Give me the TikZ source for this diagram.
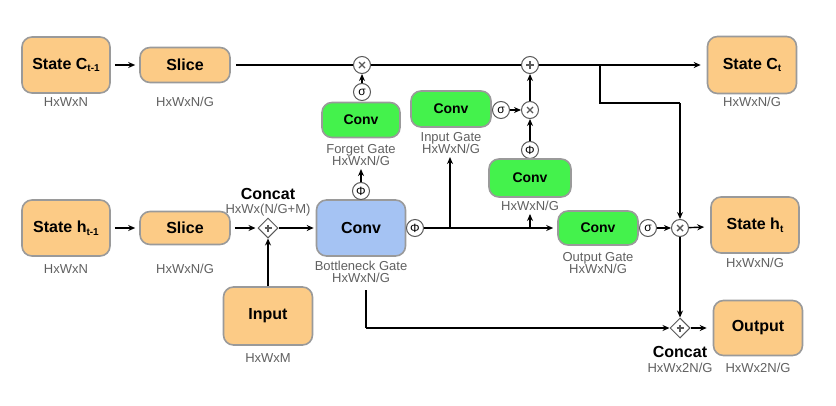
\documentclass[tikz,border=0pt]{standalone}
\usepackage{fontspec}
\setmainfont{Liberation Sans}
\usetikzlibrary{arrows.meta,shapes.geometric}
\definecolor{boxor}{HTML}{FCCB86}
\definecolor{boxgr}{HTML}{44F24C}
\definecolor{boxbl}{HTML}{A5C3F3}
\definecolor{bord}{HTML}{9A9A9A}
\definecolor{lbl}{HTML}{606060}
\newcommand\subs[1]{\raisebox{-2.5pt}{\fontsize{10}{10}\selectfont #1}}
\tikzset{
  box/.style={rounded corners=10pt, draw=bord, line width=1.6pt, align=center, inner sep=0pt},
  obox/.style={box, fill=boxor, font=\bfseries\fontsize{16}{18}\selectfont},
  gbox/.style={box, fill=boxgr, font=\bfseries\fontsize{14}{16}\selectfont},
  bbox/.style={box, fill=boxbl, font=\bfseries\fontsize{16}{18}\selectfont},
  dim/.style={text=lbl, font=\fontsize{13}{12.5}\selectfont, align=center, inner sep=0pt},
  ttl/.style={font=\bfseries\fontsize{16}{18}\selectfont, inner sep=0pt},
  op/.style={circle, draw=black!65, line width=1pt, fill=white, minimum size=17pt, inner sep=0pt, font=\fontsize{12}{12}\selectfont},
  mult/.style={op, path picture={
      \draw[line width=1.4pt] ([shift={(-3pt,-3pt)}]path picture bounding box.center) -- ([shift={(3pt,3pt)}]path picture bounding box.center);
      \draw[line width=1.4pt] ([shift={(-3pt,3pt)}]path picture bounding box.center) -- ([shift={(3pt,-3pt)}]path picture bounding box.center);}},
  plus/.style={op, path picture={
      \draw[line width=1.4pt] ([shift={(-4pt,0pt)}]path picture bounding box.center) -- ([shift={(4pt,0pt)}]path picture bounding box.center);
      \draw[line width=1.4pt] ([shift={(0pt,-4pt)}]path picture bounding box.center) -- ([shift={(0pt,4pt)}]path picture bounding box.center);}},
  cat/.style={diamond, draw=black!65, line width=1pt, fill=white, minimum size=20pt, inner sep=0pt, path picture={
      \draw[line width=1.3pt] ([shift={(-3.5pt,0pt)}]path picture bounding box.center) -- ([shift={(3.5pt,0pt)}]path picture bounding box.center);
      \draw[line width=1.3pt] ([shift={(0pt,-3.5pt)}]path picture bounding box.center) -- ([shift={(0pt,3.5pt)}]path picture bounding box.center);}},
  wire/.style={line width=1.4pt, draw=black},
  arr/.style={wire, -{Stealth[length=7pt,width=6pt]}},
}
\begin{document}
\begin{tikzpicture}[x=1pt,y={(0pt,-1pt)}]
\useasboundingbox (0,0) rectangle (836,405);
% top row
\node[obox, minimum width=88pt, minimum height=56pt] (c0) at (66,65) {State C\subs{t-1}};
\node[dim] (c0l) at (66,102) {HxWxN};
\node[obox, minimum width=90pt, minimum height=35pt] (s1) at (185,65) {Slice};
\node[dim] (s1l) at (185,102) {HxWxN/G};
\node[mult] (fx) at (362,65) {};
\node[op] (fs) at (362,92) {σ};
\node[gbox, minimum width=78pt, minimum height=35pt] (fc) at (361,120) {Conv};
\node[dim] (fcl) at (361,155) {Forget Gate\\HxWxN/G};
\node[plus] (pl) at (530,65) {};
\node[gbox, minimum width=80pt, minimum height=36pt] (ic) at (451,109) {Conv};
\node[dim] (icl) at (451,143) {Input Gate\\HxWxN/G};
\node[op] (is) at (501,110) {σ};
\node[mult] (ix) at (530,110) {};
\node[op] (ph) at (530,150) {Φ};
\node[gbox, minimum width=82pt, minimum height=38pt] (cc) at (530,178) {Conv};
\node[dim] (ccl) at (530,206) {HxWxN/G};
\node[obox, minimum width=89pt, minimum height=57pt] (ct) at (752,65) {State C\subs{t}};
\node[dim] (ctl) at (752,102) {HxWxN/G};
% middle row
\node[obox, minimum width=88pt, minimum height=56pt] (h0) at (66,228) {State h\subs{t-1}};
\node[dim] (h0l) at (66,269) {HxWxN};
\node[obox, minimum width=90pt, minimum height=33pt] (s2) at (185,228) {Slice};
\node[dim] (s2l) at (185,269) {HxWxN/G};
\node[cat] (cat) at (268,228) {};
\node[ttl] (catt) at (268,194) {Concat};
\node[dim] (catl) at (268,210) {HxWx(N/G+M)};
\node[bbox, minimum width=89pt, minimum height=56pt] (bc) at (361,228) {Conv};
\node[dim] (bcl) at (361,272) {Bottleneck Gate\\HxWxN/G};
\node[op] (bt) at (361,191) {Φ};
\node[op] (br) at (415,228) {Φ};
\node[gbox, minimum width=80pt, minimum height=34pt] (oc) at (598,228) {Conv};
\node[dim] (ocl) at (598,263) {Output Gate\\HxWxN/G};
\node[op] (os) at (648,228) {σ};
\node[mult] (ox) at (680,228) {};
\node[obox, minimum width=88pt, minimum height=56pt] (ht) at (755,225) {State h\subs{t}};
\node[dim] (htl) at (755,263) {HxWxN/G};
% bottom row
\node[obox, minimum width=89pt, minimum height=58pt] (in) at (268,316) {Input};
\node[dim] (inl) at (268,358) {HxWxM};
\node[cat] (oc2) at (680,328) {};
\node[ttl] (oc2t) at (680,352) {Concat};
\node[dim] (oc2l) at (680,368) {HxWx2N/G};
\node[obox, minimum width=89pt, minimum height=55pt] (out) at (758,328) {Output};
\node[dim] (outl) at (758,368) {HxWx2N/G};
% coordinates
\coordinate (j1) at (600,65);
\coordinate (j2) at (600,103);
\coordinate (j3) at (680,103);
\coordinate (b1) at (450,228);
\coordinate (b2) at (530,228);
\coordinate (d0) at (366,290);
\coordinate (d1) at (366,328);
% connectors top
\draw[arr, shorten <=4pt, shorten >=4pt] (c0) -- (s1);
\draw[wire, shorten <=5pt] (s1) -- (fx);
\draw[wire] (fx) -- (pl);
\draw[arr, shorten >=6pt] (pl) -- (ct);
\draw[arr] (fs) -- (fx);
\draw[arr] (is) -- (ix);
\draw[arr] (ix) -- (pl);
\draw[arr] (ph) -- (ix);
\draw[wire] (j1) -- (j2) -- (j3);
\draw[arr] (j3) -- (ox);
% connectors middle
\draw[arr, shorten <=4pt, shorten >=4pt] (h0) -- (s2);
\draw[arr, shorten <=4pt, shorten >=2pt] (s2) -- (cat);
\draw[arr, shorten >=2pt] (cat) -- (bc);
\draw[arr] (in) -- (cat);
\draw[arr, shorten >=3pt] (bt) -- (fcl);
\draw[arr, shorten >=4pt] (br) -- (oc);
\draw[arr, shorten >=3pt] (b1) -- (b1 |- icl.south);
\draw[arr, shorten >=3pt] (b2) -- (b2 |- ccl.south);
\draw[arr] (os) -- (ox);
\draw[arr, shorten >=6pt] (ox) -- (ht);
\draw[arr] (ox) -- (oc2);
\draw[arr, shorten >=6pt] (oc2) -- (out);
\draw[wire] (d0) -- (d1);
\draw[arr] (d1) -- (oc2);
\end{tikzpicture}
\end{document}
